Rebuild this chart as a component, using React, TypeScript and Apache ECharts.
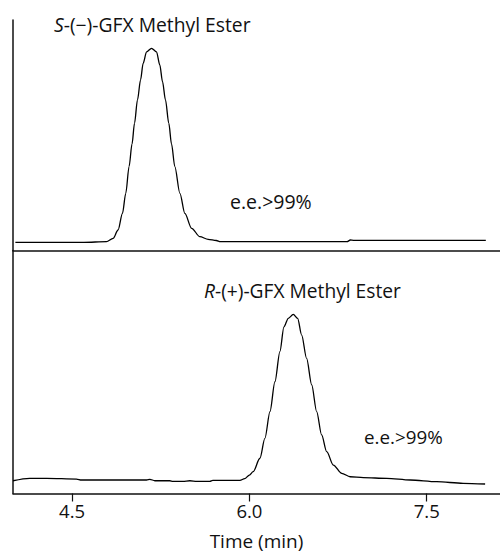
import React, { useEffect, useRef } from "react";
import * as echarts from "echarts";

// S-(−)-GFX methyl ester trace (time in min, detector response, arbitrary units)
const sTimes = [4.02, 4.3, 4.6, 4.791, 4.847, 4.889, 4.926, 4.954, 4.982, 5.007, 5.028, 5.053, 5.079, 5.101, 5.13, 5.172, 5.214, 5.242, 5.265, 5.29, 5.318, 5.341, 5.369, 5.412, 5.454, 5.511, 5.581, 5.651, 5.72, 5.755, 6.2, 6.6, 6.826, 6.854, 6.88, 7.2, 7.6, 8.0];
const sValues = [3.55, 3.55, 3.55, 3.82, 5.29, 8.89, 16.1, 24.8, 36.4, 46.2, 55.2, 65.3, 74.0, 81.2, 86.2, 87.7, 86.2, 80.5, 73.2, 65.3, 55.2, 46.2, 36.4, 24.8, 16.1, 9.63, 5.99, 4.86, 4.34, 3.82, 3.82, 3.82, 3.82, 4.55, 4.42, 4.42, 4.42, 4.42];

// R-(+)-GFX methyl ester trace
const rTimes = [4.0, 4.141, 4.285, 4.537, 4.579, 5.13, 5.158, 5.2, 5.327, 5.352, 5.437, 5.496, 5.555, 5.665, 5.69, 5.92, 5.96, 6.0, 6.032, 6.089, 6.131, 6.174, 6.216, 6.258, 6.292, 6.329, 6.371, 6.408, 6.442, 6.484, 6.527, 6.569, 6.611, 6.654, 6.71, 6.781, 6.852, 6.964, 7.162, 7.36, 7.585, 7.808, 7.994];
const rValues = [5.25, 6.25, 6.25, 5.95, 5.55, 5.55, 5.85, 5.25, 5.25, 5.0, 5.0, 5.25, 5.0, 5.0, 5.4, 5.4, 6.1, 7.6, 8.97, 14.5, 22.7, 33.7, 46.0, 58.4, 68.6, 72.1, 73.7, 72.1, 65.2, 55.6, 44.7, 33.7, 24.1, 17.2, 11.7, 8.3, 6.9, 6.5, 6.25, 5.55, 4.85, 4.2, 3.9];

const tickValues = [4.5, 6.0, 7.5];
const xMin = 4.0;
const xMax = 8.12;

const FONT = "Open Sans";

export default function App() {
  const ref = useRef<HTMLDivElement>(null);
  useEffect(() => {
    if (!ref.current) return;
    const chart = echarts.init(ref.current, null, { renderer: "svg" });
    const sData = sTimes.map((t, i) => [t, sValues[i]]);
    const rData = rTimes.map((t, i) => [t, rValues[i]]);
    const axisLine = { show: true, lineStyle: { color: "#111", width: 1.5 } };
    const lineStyle = { color: "#000", width: 1.3 };
    chart.setOption({
      animation: false,
      backgroundColor: "#fff",
      grid: [
        { left: 13, right: 0, top: 20, height: 230.5 },
        { left: 13, right: 0, top: 250.5, height: 243 },
      ],
      xAxis: [
        {
          gridIndex: 0, type: "value", min: xMin, max: xMax,
          axisLine, axisTick: { show: false }, axisLabel: { show: false }, splitLine: { show: false },
        },
        {
          gridIndex: 1, type: "value", min: xMin, max: xMax,
          axisLine,
          axisTick: { show: true, customValues: tickValues, length: 8, lineStyle: { color: "#111", width: 1.2 } },
          axisLabel: {
            show: true, customValues: tickValues, margin: 7,
            formatter: (v: number) => v.toFixed(1),
            fontFamily: FONT, fontSize: 18.5, color: "#111",
          },
          splitLine: { show: false },
          name: "Time (min)", nameLocation: "middle", nameGap: 38,
          nameTextStyle: { fontFamily: FONT, fontSize: 19, color: "#111" },
        },
      ],
      yAxis: [
        { gridIndex: 0, type: "value", min: 0, max: 100, axisLine, axisTick: { show: false }, axisLabel: { show: false }, splitLine: { show: false } },
        { gridIndex: 1, type: "value", min: 0, max: 100, axisLine, axisTick: { show: false }, axisLabel: { show: false }, splitLine: { show: false } },
      ],
      series: [
        {
          type: "line", xAxisIndex: 0, yAxisIndex: 0, data: sData, showSymbol: false,
          smooth: 0.3, smoothMonotone: "x", lineStyle,
        },
        {
          type: "line", xAxisIndex: 1, yAxisIndex: 1, data: rData, showSymbol: false,
          smooth: 0.3, smoothMonotone: "x", lineStyle,
        },
      ],
      graphic: [
        {
          type: "text", x: 54, y: 24,
          style: {
            text: "{i|S}-(−)-GFX Methyl Ester", fontFamily: FONT, fontSize: 19.3, fill: "#111",
            verticalAlign: "middle", align: "left",
            rich: { i: { fontStyle: "italic", fontFamily: FONT, fontSize: 19.3, fill: "#111" } },
          },
        },
        {
          type: "text", x: 230, y: 201,
          style: { text: "e.e.>99%", fontFamily: FONT, fontSize: 19.5, fill: "#111", verticalAlign: "middle", align: "left" },
        },
        {
          type: "text", x: 204, y: 290,
          style: {
            text: "{i|R}-(+)-GFX Methyl Ester", fontFamily: FONT, fontSize: 19.2, fill: "#111",
            verticalAlign: "middle", align: "left",
            rich: { i: { fontStyle: "italic", fontFamily: FONT, fontSize: 19.2, fill: "#111" } },
          },
        },
        {
          type: "text", x: 364, y: 437,
          style: { text: "e.e.>99%", fontFamily: FONT, fontSize: 18.8, fill: "#111", verticalAlign: "middle", align: "left" },
        },
      ],
    });
    return () => chart.dispose();
  }, []);
  return (
    <div
      ref={ref}
      style={{ position: "fixed", left: 0, top: 0, width: 500, height: 553, background: "#fff" }}
    />
  );
}
